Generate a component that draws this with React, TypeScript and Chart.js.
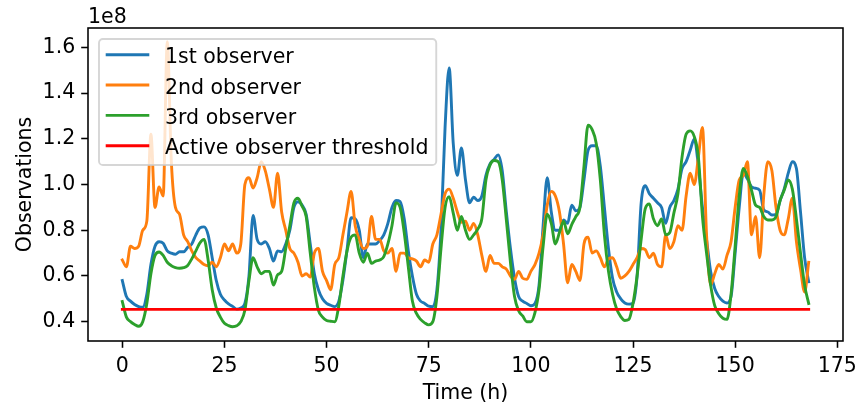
import { useEffect, useRef } from "react";
import { Chart, registerables } from "chart.js";

Chart.register(...registerables);

// Hourly observation counts over one week, in units of 1e8
const hours: number[] = Array.from({ length: 169 }, (_, i) => i);

const observer1: number[] = [
  0.58, 0.51, 0.49, 0.475, 0.466, 0.463, 0.52, 0.65, 0.73, 0.75,
  0.743, 0.71, 0.70, 0.695, 0.706, 0.706, 0.725, 0.74, 0.78, 0.81,
  0.815, 0.78, 0.68, 0.58, 0.52, 0.495, 0.478, 0.467, 0.455, 0.46,
  0.48, 0.60, 0.865, 0.76, 0.74, 0.75, 0.72, 0.665, 0.71, 0.706,
  0.74, 0.80, 0.90, 0.925, 0.91, 0.87, 0.74, 0.61, 0.54, 0.50,
  0.48, 0.472, 0.466, 0.49, 0.582, 0.714, 0.855, 0.85, 0.80, 0.68,
  0.74, 0.74, 0.74, 0.755, 0.78, 0.83, 0.90, 0.93, 0.925, 0.85,
  0.71, 0.60, 0.52, 0.49, 0.48, 0.468, 0.466, 0.54, 0.80, 1.25,
  1.51, 1.18, 1.04, 1.16, 1.02, 0.92, 0.945, 0.93, 0.95, 1.04,
  1.09, 1.11, 1.13, 1.06, 0.88, 0.72, 0.59, 0.51, 0.49, 0.48,
  0.47, 0.48, 0.56, 0.82, 1.03, 0.88, 0.80, 0.80, 0.845, 0.83,
  0.91, 0.885, 0.90, 1.02, 1.15, 1.17, 1.17, 1.08, 0.90, 0.72,
  0.59, 0.53, 0.50, 0.482, 0.477, 0.48, 0.60, 0.92, 0.995, 0.96,
  0.94, 0.92, 0.90, 0.83, 0.90, 0.93, 0.98, 1.07, 1.10, 1.15,
  1.20, 1.08, 0.90, 0.76, 0.62, 0.545, 0.51, 0.49, 0.482, 0.51,
  0.70, 0.90, 1.05, 1.025, 0.99, 0.984, 0.975, 0.89, 0.88, 0.867,
  0.87, 0.93, 0.98, 1.05, 1.10, 1.07, 0.88, 0.68, 0.575,
];

const observer2: number[] = [
  0.67, 0.64, 0.73, 0.72, 0.73, 0.80, 0.84, 1.22, 0.90, 0.99,
  0.95, 1.625, 1.10, 0.90, 0.87, 0.78, 0.75, 0.71, 0.68, 0.665,
  0.65, 0.645, 0.66, 0.64, 0.68, 0.74, 0.71, 0.74, 0.70, 0.74,
  1.00, 1.03, 0.985, 1.03, 1.10, 1.06, 0.98, 0.90, 1.05, 0.88,
  0.80, 0.72, 0.70, 0.66, 0.60, 0.61, 0.595, 0.70, 0.72, 0.62,
  0.58, 0.54, 0.65, 0.68, 0.78, 0.88, 0.97, 0.82, 0.76, 0.72,
  0.73, 0.86, 0.76, 0.76, 0.71, 0.70, 0.72, 0.62, 0.70, 0.70,
  0.68, 0.675, 0.665, 0.64, 0.67, 0.66, 0.74, 0.78, 0.87, 0.96,
  0.98, 0.94, 0.88, 0.835, 0.84, 0.80, 0.83, 0.78, 0.69, 0.62,
  0.69, 0.655, 0.655, 0.64, 0.63, 0.60, 0.585, 0.62, 0.59, 0.585,
  0.62, 0.65, 0.70, 0.78, 0.91, 0.97, 0.95, 0.88, 0.74, 0.57,
  0.65, 0.62, 0.58, 0.74, 0.77, 0.70, 0.71, 0.68, 0.64, 0.675,
  0.68, 0.64, 0.59, 0.60, 0.62, 0.65, 0.68, 0.72, 0.715, 0.68,
  0.70, 0.65, 0.64, 0.78, 0.72, 0.75, 0.82, 0.80, 0.95, 1.05,
  1.00, 1.12, 1.25, 0.78, 0.56, 0.61, 0.65, 0.63, 0.69, 0.75,
  0.90, 1.02, 1.04, 1.10, 0.78, 0.86, 0.68, 0.95, 1.10, 1.06,
  0.90, 0.80, 0.78, 0.85, 0.94, 0.75, 0.63, 0.53, 0.66,
];

const observer3: number[] = [
  0.488, 0.42, 0.40, 0.388, 0.38, 0.40, 0.48, 0.61, 0.69, 0.705,
  0.69, 0.66, 0.645, 0.637, 0.634, 0.636, 0.646, 0.675, 0.71, 0.745,
  0.76, 0.67, 0.54, 0.46, 0.42, 0.393, 0.383, 0.378, 0.382, 0.40,
  0.45, 0.58, 0.68, 0.64, 0.61, 0.62, 0.62, 0.56, 0.605, 0.62,
  0.72, 0.82, 0.92, 0.94, 0.905, 0.86, 0.70, 0.55, 0.45, 0.42,
  0.405, 0.402, 0.40, 0.47, 0.60, 0.71, 0.77, 0.78, 0.70, 0.66,
  0.70, 0.655, 0.665, 0.67, 0.685, 0.74, 0.82, 0.92, 0.90, 0.79,
  0.64, 0.49, 0.436, 0.41, 0.395, 0.386, 0.40, 0.51, 0.72, 0.90,
  0.947, 0.875, 0.80, 0.86, 0.80, 0.76, 0.78, 0.805, 0.85, 1.02,
  1.085, 1.105, 1.10, 1.02, 0.845, 0.66, 0.51, 0.448, 0.425, 0.40,
  0.40, 0.44, 0.54, 0.73, 0.87, 0.83, 0.74, 0.79, 0.84, 0.785,
  0.825, 0.86, 0.90, 1.08, 1.26, 1.24, 1.18, 1.02, 0.78, 0.62,
  0.52, 0.455, 0.422, 0.405, 0.41, 0.48, 0.60, 0.76, 0.895, 0.915,
  0.85, 0.82, 0.85, 0.78, 0.79, 0.875, 0.96, 1.12, 1.22, 1.235,
  1.21, 1.12, 0.86, 0.70, 0.56, 0.47, 0.435, 0.415, 0.41, 0.52,
  0.73, 0.95, 1.07, 1.035, 0.976, 0.91, 0.90, 0.86, 0.845, 0.845,
  0.86, 0.93, 0.975, 1.02, 0.98, 0.85, 0.70, 0.56, 0.48,
];

const activeThreshold = 0.454;
const thresholdHours: number[] = [0, 168];

const seriesLabels: string[] = [
  "1st observer",
  "2nd observer",
  "3rd observer",
  "Active observer threshold",
];
const seriesColors: string[] = ["#1f77b4", "#ff7f0e", "#2ca02c", "#ff0000"];

const xTickValues: number[] = [0, 25, 50, 75, 100, 125, 150, 175];
const yTickValues: number[] = [0.4, 0.6, 0.8, 1.0, 1.2, 1.4, 1.6];
const yTickLabels: string[] = ["0.4", "0.6", "0.8", "1.0", "1.2", "1.4", "1.6"];

const xAxisTitle = "Time (h)";
const yAxisTitle = "Observations";
const yScaleExponent = "1e8";

const FONT_FAMILY = "'DejaVu Sans', sans-serif";
const FONT_PX = 20.5;
const LINE_W = 2.9;
const SPINE_W = 1.56;

// Frame, axis titles, offset label and an in-plot legend box
const overlayPlugin = {
  id: "overlay",
  afterDraw(chart: any) {
    const { ctx, chartArea: a } = chart;
    ctx.save();

    ctx.strokeStyle = "#000";
    ctx.lineWidth = SPINE_W;
    ctx.strokeRect(a.left, a.top, a.right - a.left, a.bottom - a.top);

    ctx.fillStyle = "#000";
    ctx.font = `${FONT_PX}px ${FONT_FAMILY}`;
    ctx.textBaseline = "alphabetic";
    ctx.textAlign = "center";
    ctx.fillText(xAxisTitle, (a.left + a.right) / 2, 399);

    ctx.save();
    ctx.translate(31, (a.top + a.bottom) / 2);
    ctx.rotate(-Math.PI / 2);
    ctx.fillText(yAxisTitle, 0, 0);
    ctx.restore();

    ctx.textAlign = "left";
    ctx.fillText(yScaleExponent, a.left, a.top - 5.5);

    // legend
    const boxLeft = a.left + 11;
    const boxTop = a.top + 11;
    const firstRow = boxTop + 15.7;
    const rowGap = 30.35;
    const handleX0 = boxLeft + 6.7;
    const handleX1 = boxLeft + 50.3;
    const textX = boxLeft + 66;
    let maxW = 0;
    seriesLabels.forEach((t) => {
      maxW = Math.max(maxW, ctx.measureText(t).width);
    });
    const boxRight = textX + maxW + 7.8;
    const boxBottom = firstRow + rowGap * (seriesLabels.length - 1) + 19.3;
    const r = 3.9;
    ctx.beginPath();
    ctx.moveTo(boxLeft + r, boxTop);
    ctx.lineTo(boxRight - r, boxTop);
    ctx.arcTo(boxRight, boxTop, boxRight, boxTop + r, r);
    ctx.lineTo(boxRight, boxBottom - r);
    ctx.arcTo(boxRight, boxBottom, boxRight - r, boxBottom, r);
    ctx.lineTo(boxLeft + r, boxBottom);
    ctx.arcTo(boxLeft, boxBottom, boxLeft, boxBottom - r, r);
    ctx.lineTo(boxLeft, boxTop + r);
    ctx.arcTo(boxLeft, boxTop, boxLeft + r, boxTop, r);
    ctx.closePath();
    ctx.fillStyle = "rgba(255,255,255,0.8)";
    ctx.fill();
    ctx.strokeStyle = "rgba(204,204,204,0.8)";
    ctx.lineWidth = 1.9;
    ctx.stroke();

    seriesLabels.forEach((t, i) => {
      const y = firstRow + rowGap * i;
      ctx.beginPath();
      ctx.strokeStyle = seriesColors[i];
      ctx.lineWidth = LINE_W;
      ctx.lineCap = "butt";
      ctx.moveTo(handleX0, y);
      ctx.lineTo(handleX1, y);
      ctx.stroke();
      ctx.fillStyle = "#000";
      ctx.fillText(t, textX, y + 8.5);
    });

    ctx.restore();
  },
};

function lineDataset(label: string, color: string, xs: number[], ys: number[], order: number) {
  return {
    label,
    data: xs.map((x, i) => ({ x, y: ys[i] })),
    borderColor: color,
    backgroundColor: color,
    borderWidth: LINE_W,
    pointRadius: 0,
    pointHoverRadius: 0,
    cubicInterpolationMode: "monotone" as const,
    fill: false,
    borderJoinStyle: "round" as const,
    borderCapStyle: "square" as const,
    order,
  };
}

export default function App() {
  const canvasRef = useRef<HTMLCanvasElement>(null);

  useEffect(() => {
    const canvas = canvasRef.current;
    if (!canvas) return;
    const tickFont = { family: FONT_FAMILY, size: FONT_PX };
    const chart = new Chart(canvas, {
      type: "line",
      data: {
        datasets: [
          lineDataset(seriesLabels[0], seriesColors[0], hours, observer1, 3),
          lineDataset(seriesLabels[1], seriesColors[1], hours, observer2, 2),
          lineDataset(seriesLabels[2], seriesColors[2], hours, observer3, 1),
          lineDataset(
            seriesLabels[3],
            seriesColors[3],
            thresholdHours,
            thresholdHours.map(() => activeThreshold),
            0
          ),
        ],
      },
      options: {
        responsive: false,
        animation: false,
        devicePixelRatio: 1,
        events: [],
        layout: { padding: { left: 0, top: 28, right: 16, bottom: 0 } },
        plugins: {
          legend: { display: false },
          tooltip: { enabled: false },
          title: { display: false },
        },
        scales: {
          x: {
            type: "linear",
            min: -8.4,
            max: 176.4,
            afterBuildTicks: (s: any) => {
              s.ticks = xTickValues.map((v) => ({ value: v }));
            },
            afterFit: (s: any) => {
              s.height = 67;
              s.paddingLeft = 0;
              s.paddingRight = 0;
            },
            grid: {
              display: true,
              drawOnChartArea: false,
              drawTicks: true,
              tickLength: 6.8,
              tickWidth: SPINE_W,
              tickColor: "#000",
            },
            border: { display: false },
            ticks: {
              color: "#000",
              font: tickFont,
              padding: 7,
              maxRotation: 0,
              autoSkip: false,
              callback: (v: any) => String(v),
            },
          },
          y: {
            type: "linear",
            min: 0.3155,
            max: 1.685,
            afterBuildTicks: (s: any) => {
              s.ticks = yTickValues.map((v) => ({ value: v }));
            },
            afterFit: (s: any) => {
              s.width = 88;
              s.paddingTop = 0;
              s.paddingBottom = 0;
            },
            grid: {
              display: true,
              drawOnChartArea: false,
              drawTicks: true,
              tickLength: 6.8,
              tickWidth: SPINE_W,
              tickColor: "#000",
            },
            border: { display: false },
            ticks: {
              color: "#000",
              font: tickFont,
              padding: 6,
              autoSkip: false,
              callback: (_v: any, i: number) => yTickLabels[i],
            },
          },
        },
      },
      plugins: [overlayPlugin],
    } as any);
    return () => chart.destroy();
  }, []);

  return (
    <div
      style={{
        position: "absolute",
        left: 0,
        top: 0,
        width: 859,
        height: 408,
        background: "#fff",
      }}
    >
      <canvas
        ref={canvasRef}
        width={859}
        height={408}
        style={{ display: "block", width: 859, height: 408 }}
      />
    </div>
  );
}
